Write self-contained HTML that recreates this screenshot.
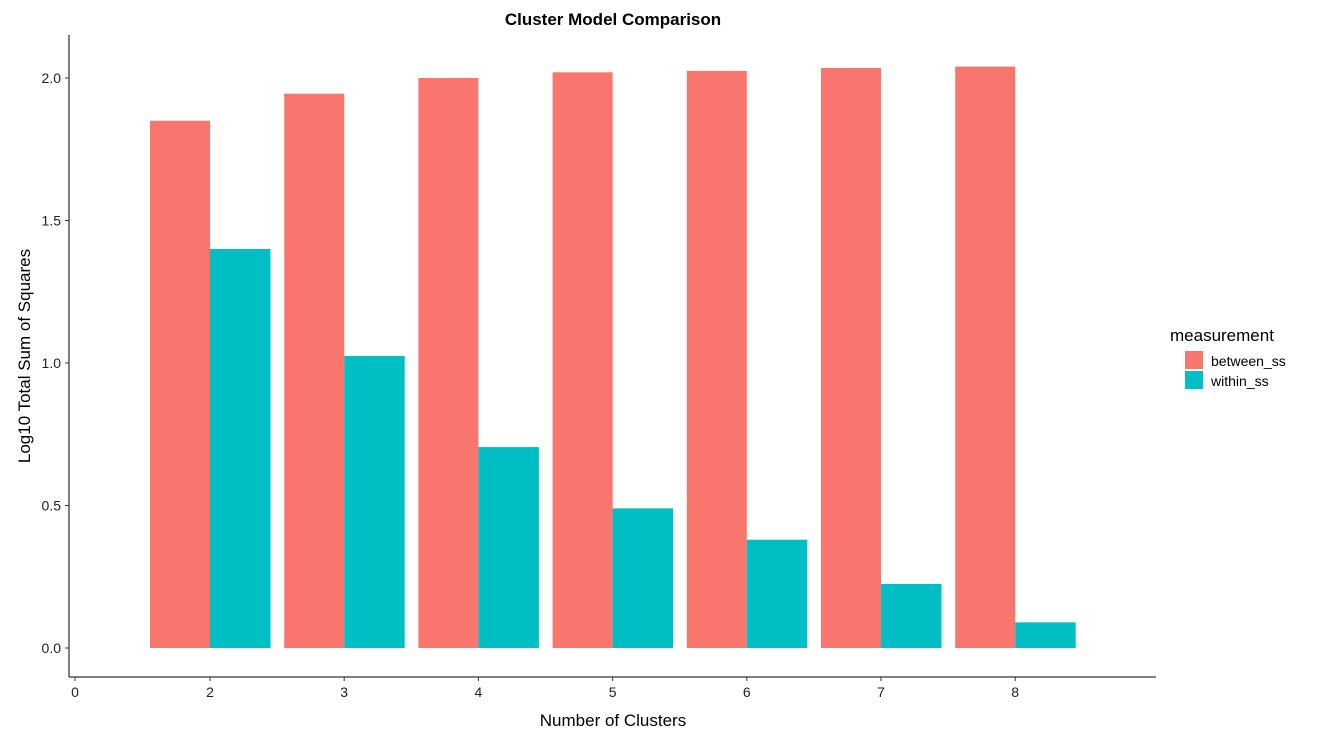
<!DOCTYPE html>
<html><head><meta charset="utf-8"><style>
body{margin:0;background:#fff;font-family:"Liberation Sans",sans-serif;}
svg text{font-family:"Liberation Sans",sans-serif;}
</style></head><body>
<svg id="chart" width="1319" height="741" xmlns="http://www.w3.org/2000/svg">
<text x="613" y="25" text-anchor="middle" font-size="17" font-weight="bold">Cluster Model Comparison</text>
<line x1="69" y1="35" x2="69" y2="677" stroke="#000" stroke-width="1"/>
<line x1="69" y1="677" x2="1156" y2="677" stroke="#000" stroke-width="1"/>
<g id="bars"></g><g id="yticks"></g><g id="xticks"></g>
<text transform="translate(30,356) rotate(-90)" text-anchor="middle" font-size="17">Log10 Total Sum of Squares</text>
<text x="613" y="726" text-anchor="middle" font-size="17">Number of Clusters</text>
<text x="1170" y="341" font-size="17">measurement</text>
<rect x="1185" y="351" width="18" height="18" fill="#F8766D"/>
<text x="1211" y="366" font-size="14">between_ss</text>
<rect x="1185" y="371" width="18" height="18" fill="#00BFC4"/>
<text x="1211" y="386" font-size="14">within_ss</text>
</svg>
<script>
const categories=[2,3,4,5,6,7,8];
const betweenSS=[1.85,1.945,2.0,2.02,2.025,2.035,2.04];
const withinSS=[1.40,1.025,0.705,0.49,0.38,0.225,0.09];
const yTicks=[0,0.5,1,1.5,2];
const yTickLabels=["0.0","0.5","1.0","1.5","2.0"];
const xTicks=[0,2,3,4,5,6,7,8];
const NS="http://www.w3.org/2000/svg";
function y(v){return 648-v*285;}
function x(c){return c===0?75:210+(c-2)*134.2;}
function mk(t,a,p){const e=document.createElementNS(NS,t);for(const k in a)e.setAttribute(k,a[k]);p.appendChild(e);return e;}
const bars=document.getElementById('bars');
categories.forEach((c,i)=>{
 const b=mk('rect',{x:x(c)-60,y:y(betweenSS[i]),width:60,height:y(0)-y(betweenSS[i]),fill:'#F8766D'},bars);
 
 
 const w=mk('rect',{x:x(c),y:y(withinSS[i]),width:60.5,height:y(0)-y(withinSS[i]),fill:'#00BFC4'},bars);
 
 
});
const yt=document.getElementById('yticks');
yTicks.forEach((v,i)=>{
 const l=mk('line',{x1:65,x2:69,y1:y(v),y2:y(v),stroke:'#333'},yt);
 
 
 const t=mk('text',{x:61,y:y(v)+5,'text-anchor':'end','font-size':14,fill:'#222'},yt);
 
 
 t.textContent=yTickLabels[i];
});
const xt=document.getElementById('xticks');
xTicks.forEach(c=>{
 const l=mk('line',{x1:x(c),x2:x(c),y1:677,y2:681,stroke:'#333'},xt);
 
 
 const t=mk('text',{x:x(c),y:697,'text-anchor':'middle','font-size':14,fill:'#222'},xt);
 
 
 t.textContent=c;
});
</script>
</body></html>
